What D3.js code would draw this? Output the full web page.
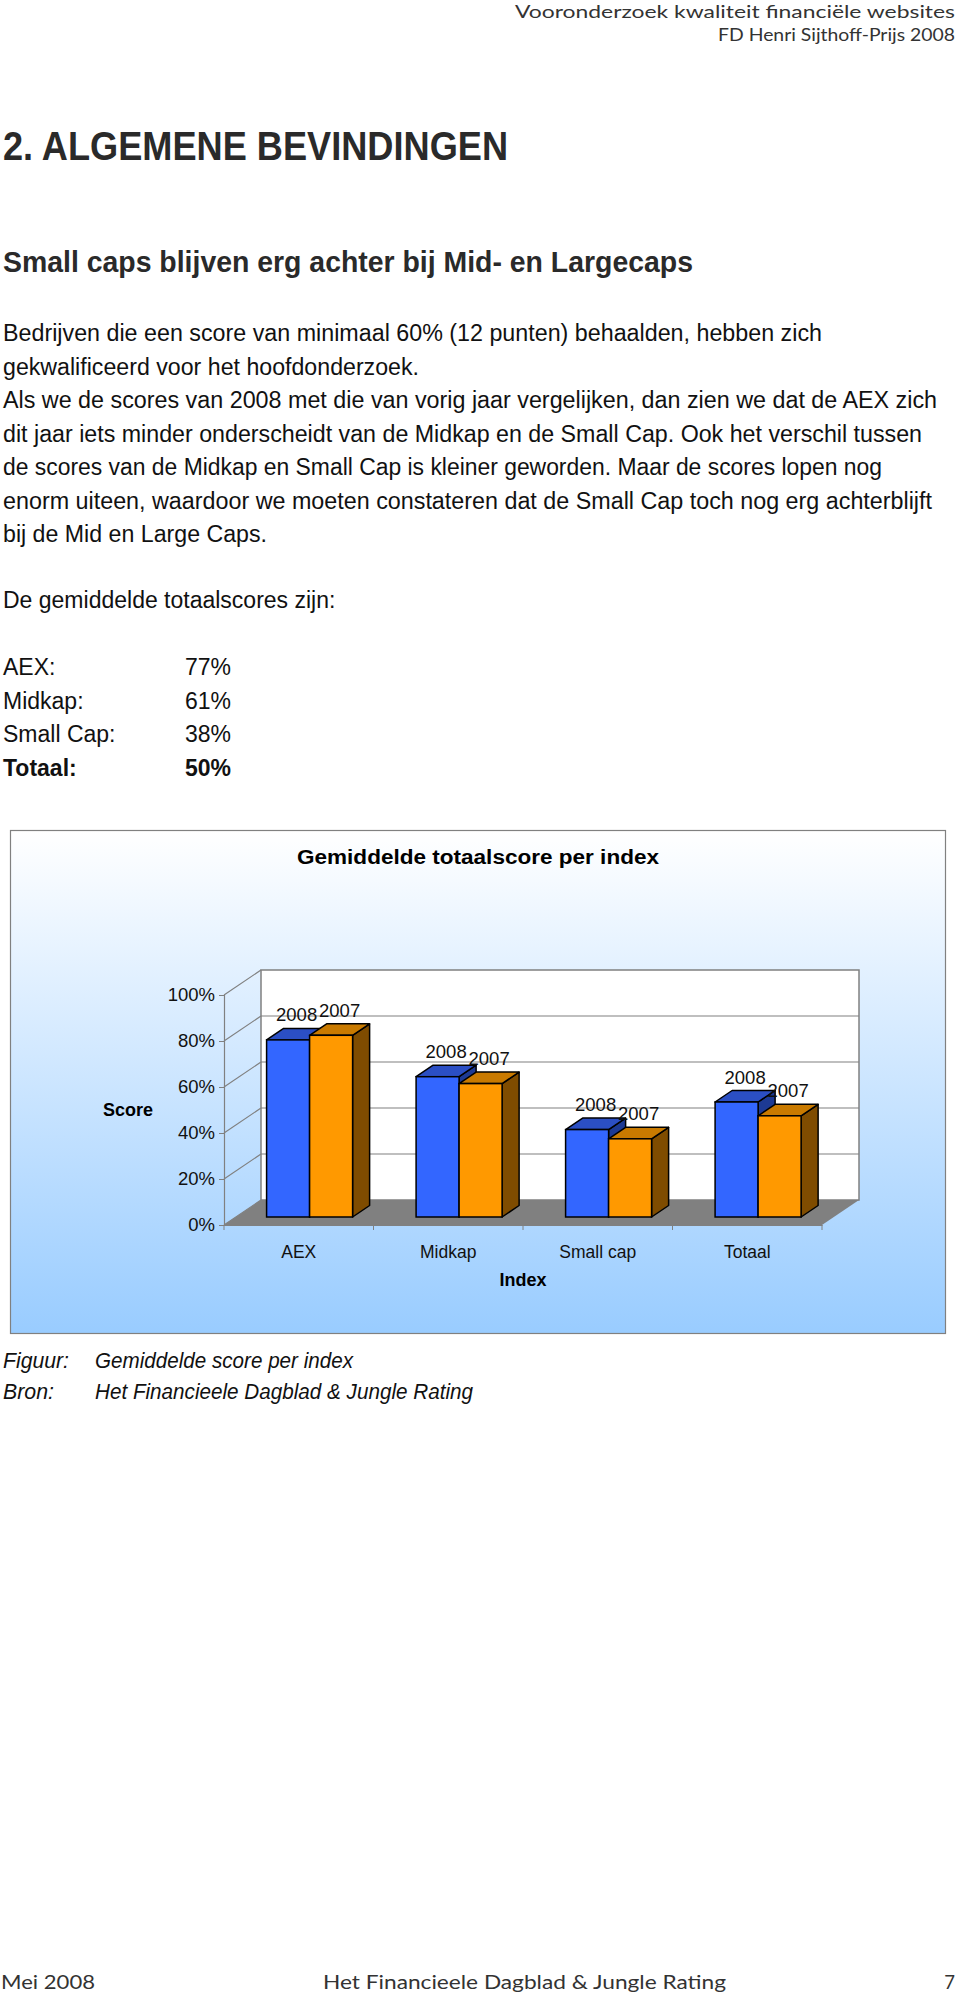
<!DOCTYPE html>
<html>
<head>
<meta charset="utf-8">
<script src="https://cdn.jsdelivr.net/npm/d3@7"></script>
<style>
  body { margin: 0; background: #ffffff; }
  svg text { font-family: "Liberation Sans", Arial, Helvetica, sans-serif; }
  .pdf { font-family: Lato, "Open Sans", sans-serif !important; fill: #333333; }
</style>
</head>
<body>
<div id="page"></div>
<script>
// chart data
const CATEGORIES = ["AEX", "Midkap", "Small cap", "Totaal"];
const YEARS = ["2008", "2007"];
const SCORES_2008 = [77, 61, 38, 50];
const SCORES_2007 = [79, 58, 34, 44];
const Y_TICKS = [0, 20, 40, 60, 80, 100];

// page text
const PARAGRAPH = [
  "Bedrijven die een score van minimaal 60% (12 punten) behaalden, hebben zich",
  "gekwalificeerd voor het hoofdonderzoek.",
  "Als we de scores van 2008 met die van vorig jaar vergelijken, dan zien we dat de AEX zich",
  "dit jaar iets minder onderscheidt van de Midkap en de Small Cap. Ook het verschil tussen",
  "de scores van de Midkap en Small Cap is kleiner geworden. Maar de scores lopen nog",
  "enorm uiteen, waardoor we moeten constateren dat de Small Cap toch nog erg achterblijft",
  "bij de Mid en Large Caps."
];
const PARAGRAPH_WIDTHS = [819, 416, 934, 919, 879, 929, 264];
const AVG_LABELS = ["AEX:", "Midkap:", "Small Cap:", "Totaal:"];
const AVG_VALUES = ["77%", "61%", "38%", "50%"];

const FRAME_WIDTH = 960;
const FRAME_HEIGHT = 1995;

const SVG = d3.select("#page")
  .append("svg")
  .attr("width", FRAME_WIDTH)
  .attr("height", FRAME_HEIGHT);

// header
SVG.append("text").attr("class", "pdf")
  .attr("x", 955).attr("y", 18)
  .attr("text-anchor", "end")
  .attr("font-size", 18)
  .attr("textLength", 440).attr("lengthAdjust", "spacingAndGlyphs")
  .text("Vooronderzoek kwaliteit financiële websites");
SVG.append("text").attr("class", "pdf")
  .attr("x", 955).attr("y", 41)
  .attr("text-anchor", "end")
  .attr("font-size", 18)
  .attr("textLength", 237).attr("lengthAdjust", "spacingAndGlyphs")
  .text("FD Henri Sijthoff-Prijs 2008");

// headings
SVG.append("text")
  .attr("x", 3).attr("y", 160)
  .attr("font-size", 41).attr("font-weight", "bold")
  .attr("fill", "#2a2a2a")
  .attr("textLength", 505).attr("lengthAdjust", "spacingAndGlyphs")
  .text("2. ALGEMENE BEVINDINGEN");
SVG.append("text")
  .attr("x", 3).attr("y", 272)
  .attr("font-size", 30).attr("font-weight", "bold")
  .attr("fill", "#2a2a2a")
  .attr("textLength", 690).attr("lengthAdjust", "spacingAndGlyphs")
  .text("Small caps blijven erg achter bij Mid- en Largecaps");

// paragraph
SVG.selectAll(".para")
  .data(PARAGRAPH)
  .enter()
  .append("text")
  .attr("class", "para")
  .attr("x", 3)
  .attr("y", (d, i) => 341 + i * 33.5)
  .attr("font-size", 23)
  .attr("fill", "#111")
  .attr("textLength", (d, i) => PARAGRAPH_WIDTHS[i])
  .attr("lengthAdjust", "spacingAndGlyphs")
  .text((d) => d);

SVG.append("text")
  .attr("x", 3).attr("y", 608)
  .attr("font-size", 23).attr("fill", "#111")
  .text("De gemiddelde totaalscores zijn:");

AVG_LABELS.forEach((lab, i) => {
  const y = 675 + i * 33.7;
  const bold = i === AVG_LABELS.length - 1 ? "bold" : "normal";
  SVG.append("text").attr("x", 3).attr("y", y)
    .attr("font-size", 23).attr("font-weight", bold).attr("fill", "#111")
    .text(lab);
  SVG.append("text").attr("x", 185).attr("y", y)
    .attr("font-size", 23).attr("font-weight", bold).attr("fill", "#111")
    .text(AVG_VALUES[i]);
});

// chart frame
const defs = SVG.append("defs");
const grad = defs.append("linearGradient")
  .attr("id", "bg").attr("x1", 0).attr("y1", 0).attr("x2", 0).attr("y2", 1);
grad.append("stop").attr("offset", "0%").attr("stop-color", "#ffffff");
grad.append("stop").attr("offset", "100%").attr("stop-color", "#99ccff");

SVG.append("rect")
  .attr("x", 10.5).attr("y", 830.5)
  .attr("width", 935).attr("height", 503)
  .attr("fill", "url(#bg)")
  .attr("stroke", "#808080").attr("stroke-width", 1.2);

SVG.append("text")
  .attr("x", 478).attr("y", 864)
  .attr("text-anchor", "middle")
  .attr("font-size", 20).attr("font-weight", "bold")
  .attr("textLength", 362).attr("lengthAdjust", "spacingAndGlyphs")
  .text("Gemiddelde totaalscore per index");

// 3d plot geometry
const MARGINS = {left: 224, right: 822, top: 995, bottom: 1225};
const DEPTH = {dx: 37, dy: 25};
const BAR_FRONT = 0.32, BAR_BACK = 0.78;
const BAR_W = 43;

const Y_SCALE = d3.scaleLinear()
  .domain([0, 100])
  .range([MARGINS.bottom, MARGINS.top]);
const X_SCALE = d3.scaleBand()
  .domain(CATEGORIES)
  .range([MARGINS.left, MARGINS.right]);
const X_SUB = d3.scaleBand()
  .domain(YEARS)
  .range([0, BAR_W * 2]);

const plot = SVG.append("g");

// back wall
plot.append("rect")
  .attr("x", MARGINS.left + DEPTH.dx)
  .attr("y", MARGINS.top - DEPTH.dy)
  .attr("width", MARGINS.right - MARGINS.left)
  .attr("height", MARGINS.bottom - MARGINS.top)
  .attr("fill", "#ffffff")
  .attr("stroke", "#808080").attr("stroke-width", 1.5);

// grid lines on back wall + side wall
plot.selectAll(".grid")
  .data(Y_TICKS.filter((d) => d > 0 && d < 100))
  .enter()
  .append("line")
  .attr("x1", MARGINS.left + DEPTH.dx)
  .attr("x2", MARGINS.right + DEPTH.dx)
  .attr("y1", (d) => Y_SCALE(d) - DEPTH.dy)
  .attr("y2", (d) => Y_SCALE(d) - DEPTH.dy)
  .attr("stroke", "#808080").attr("stroke-width", 1.2);

plot.selectAll(".side")
  .data(Y_TICKS)
  .enter()
  .append("line")
  .attr("x1", MARGINS.left)
  .attr("x2", MARGINS.left + DEPTH.dx)
  .attr("y1", (d) => Y_SCALE(d))
  .attr("y2", (d) => Y_SCALE(d) - DEPTH.dy)
  .attr("stroke", "#808080").attr("stroke-width", 1.2);

// floor
plot.append("polygon")
  .attr("points", [
    [MARGINS.left, Y_SCALE(0)],
    [MARGINS.right, Y_SCALE(0)],
    [MARGINS.right + DEPTH.dx, Y_SCALE(0) - DEPTH.dy],
    [MARGINS.left + DEPTH.dx, Y_SCALE(0) - DEPTH.dy]
  ].join(" "))
  .attr("fill", "#808080");

// axes
const yAxis = plot.append("g")
  .attr("transform", "translate(" + MARGINS.left + ",0)")
  .call(d3.axisLeft(Y_SCALE).tickValues(Y_TICKS).tickSize(5)
    .tickFormat((d) => d + "%"));
yAxis.select(".domain").attr("stroke", "#808080").attr("stroke-width", 1.2);
yAxis.selectAll(".tick line").attr("stroke", "#808080");
yAxis.selectAll(".tick text")
  .attr("x", -9)
  .attr("font-size", 18.5)
  .attr("font-family", "Liberation Sans, Arial, sans-serif")
  .attr("fill", "#111");

const xAxis = plot.append("g")
  .attr("transform", "translate(0," + MARGINS.bottom + ")")
  .call(d3.axisBottom(X_SCALE).tickSize(0).tickSizeOuter(0));
xAxis.select(".domain").attr("stroke", "#808080").attr("stroke-width", 1.2);
xAxis.selectAll(".tick text")
  .attr("y", 21)
  .attr("font-size", 17.5)
  .attr("font-family", "Liberation Sans, Arial, sans-serif")
  .attr("fill", "#111");

// category separators on the front edge
const SEPS = CATEGORIES.map((c) => X_SCALE(c)).concat([MARGINS.right]);
plot.selectAll(".sep")
  .data(SEPS)
  .enter()
  .append("line")
  .attr("x1", (d) => d).attr("x2", (d) => d)
  .attr("y1", MARGINS.bottom).attr("y2", MARGINS.bottom + 5)
  .attr("stroke", "#808080");

// bars
const COLORS = {
  "2008": {front: "#3366ff", top: "#2b4fc4", side: "#1d3a94"},
  "2007": {front: "#ff9900", top: "#c97a00", side: "#7f4c00"}
};
const f0x = BAR_FRONT * DEPTH.dx, f0y = BAR_FRONT * DEPTH.dy;
const ddx = (BAR_BACK - BAR_FRONT) * DEPTH.dx, ddy = (BAR_BACK - BAR_FRONT) * DEPTH.dy;

const barData = [];
CATEGORIES.forEach((c, i) => {
  barData.push({cat: c, year: "2008", value: SCORES_2008[i]});
  barData.push({cat: c, year: "2007", value: SCORES_2007[i]});
});

const bars = plot.selectAll(".bar")
  .data(barData)
  .enter()
  .append("g")
  .attr("class", "bar");

const bx = (d) => X_SCALE(d.cat) + (X_SCALE.bandwidth() - BAR_W * 2) / 2 - 1 + f0x + X_SUB(d.year);
const bTop = (d) => Y_SCALE(d.value) - f0y;
const bBot = Y_SCALE(0) - f0y;

bars.append("polygon")
  .attr("points", (d) => {
    const x = bx(d) + BAR_W, yt = bTop(d);
    return [[x, yt], [x + ddx, yt - ddy], [x + ddx, bBot - ddy], [x, bBot]].join(" ");
  })
  .attr("fill", (d) => COLORS[d.year].side)
  .attr("stroke", "#000").attr("stroke-width", 1.5).attr("stroke-linejoin", "round");

bars.append("polygon")
  .attr("points", (d) => {
    const x = bx(d), yt = bTop(d);
    return [[x, yt], [x + BAR_W, yt], [x + BAR_W + ddx, yt - ddy], [x + ddx, yt - ddy]].join(" ");
  })
  .attr("fill", (d) => COLORS[d.year].top)
  .attr("stroke", "#000").attr("stroke-width", 1.5).attr("stroke-linejoin", "round");

bars.append("rect")
  .attr("x", (d) => bx(d))
  .attr("y", (d) => bTop(d))
  .attr("width", BAR_W)
  .attr("height", (d) => bBot - bTop(d))
  .attr("fill", (d) => COLORS[d.year].front)
  .attr("stroke", "#000").attr("stroke-width", 1.5);

bars.append("text")
  .attr("x", (d) => bx(d) + BAR_W / 2 + ddx / 2)
  .attr("y", (d) => bTop(d) - ddy - 7)
  .attr("text-anchor", "middle")
  .attr("font-size", 18.5)
  .attr("fill", "#111")
  .text((d) => d.year);

// axis titles
SVG.append("text")
  .attr("x", 128).attr("y", 1116)
  .attr("text-anchor", "middle")
  .attr("font-size", 18).attr("font-weight", "bold")
  .text("Score");
SVG.append("text")
  .attr("x", (MARGINS.left + MARGINS.right) / 2).attr("y", 1286)
  .attr("text-anchor", "middle")
  .attr("font-size", 18).attr("font-weight", "bold")
  .text("Index");

// caption
const CAPTION = [["Figuur:", "Gemiddelde score per index", 258], ["Bron:", "Het Financieele Dagblad & Jungle Rating", 378]];
CAPTION.forEach((row, i) => {
  const y = 1368 + i * 31;
  SVG.append("text").attr("x", 3).attr("y", y)
    .attr("font-size", 22).attr("font-style", "italic").attr("fill", "#111")
    .attr("textLength", i === 0 ? 66 : 51).attr("lengthAdjust", "spacingAndGlyphs")
    .text(row[0]);
  SVG.append("text").attr("x", 95).attr("y", y)
    .attr("font-size", 22).attr("font-style", "italic").attr("fill", "#111")
    .attr("textLength", row[2]).attr("lengthAdjust", "spacingAndGlyphs")
    .text(row[1]);
});

// footer
SVG.append("text").attr("class", "pdf")
  .attr("x", 1).attr("y", 1989).attr("font-size", 18.5)
  .attr("textLength", 94).attr("lengthAdjust", "spacingAndGlyphs")
  .text("Mei 2008");
SVG.append("text").attr("class", "pdf")
  .attr("x", 323).attr("y", 1989).attr("font-size", 18.5)
  .attr("textLength", 403).attr("lengthAdjust", "spacingAndGlyphs")
  .text("Het Financieele Dagblad & Jungle Rating");
SVG.append("text").attr("class", "pdf")
  .attr("x", 955).attr("y", 1989).attr("font-size", 18.5)
  .attr("text-anchor", "end")
  .text("7");
</script>
</body>
</html>
